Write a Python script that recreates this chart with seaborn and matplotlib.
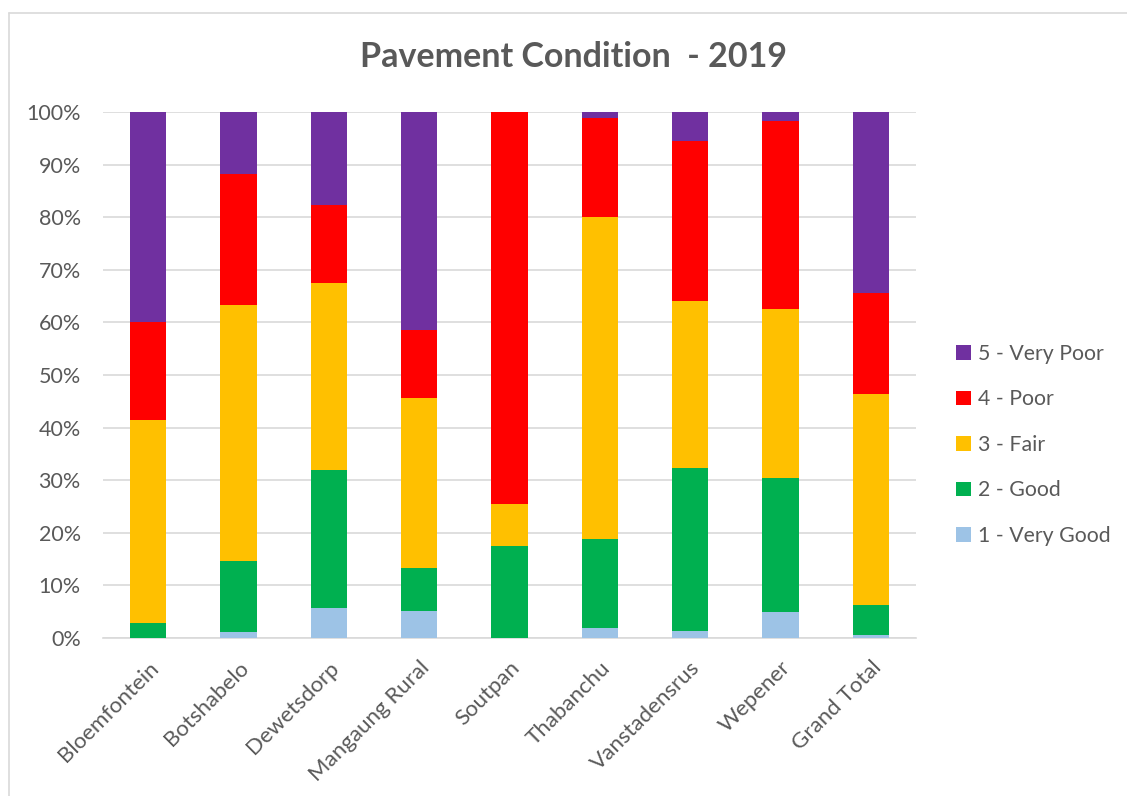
import matplotlib
matplotlib.use("Agg")
import matplotlib.pyplot as plt
import seaborn as sns
import pandas as pd
import numpy as np
from matplotlib.patches import Patch
from matplotlib.lines import Line2D
from matplotlib.ticker import PercentFormatter

categories = ["Bloemfontein", "Botshabelo", "Dewetsdorp", "Mangaung Rural", "Soutpan",
              "Thabanchu", "Vanstadensrus", "Wepener", "Grand Total"]
very_good = [0.0, 1.1, 5.7, 5.2, 0.0, 1.9, 1.3, 4.9, 0.6]
good      = [2.9, 13.6, 26.3, 8.2, 17.5, 16.9, 31.1, 25.5, 5.6]
fair      = [38.6, 48.7, 35.4, 32.3, 8.0, 61.3, 31.6, 32.1, 40.1]
poor      = [18.5, 24.8, 15.0, 12.8, 74.5, 18.8, 30.4, 35.7, 19.3]
very_poor = [40.0, 11.8, 17.6, 41.5, 0.0, 1.1, 5.6, 1.8, 34.4]

series_names = ["1 - Very Good", "2 - Good", "3 - Fair", "4 - Poor", "5 - Very Poor"]
colors = ["#9DC3E6", "#00B050", "#FFC000", "#FF0000", "#7030A0"]

df = pd.DataFrame({"cat": categories, "1 - Very Good": very_good, "2 - Good": good,
                   "3 - Fair": fair, "4 - Poor": poor, "5 - Very Poor": very_poor})
cum = df[series_names].cumsum(axis=1)

sns.set_theme(style="white")
plt.rcParams['font.family'] = ['Lato', 'DejaVu Sans']

fig = plt.figure(figsize=(11.27, 7.96), dpi=100)
ax = fig.add_axes([103/1127, 1-638/796, (916-103)/1127, (638-112)/796])

for name, col in reversed(list(zip(series_names, colors))):
    sns.barplot(x=df["cat"], y=cum[name], color=col, width=0.4, ax=ax,
                saturation=1, linewidth=0, zorder=3)

ax.set_ylim(0, 100)
ax.set_yticks(np.arange(0, 101, 10))
ax.yaxis.set_major_formatter(PercentFormatter(decimals=0))
ax.grid(axis='y', color='#D9D9D9', linewidth=1.2, zorder=0)
ax.set_axisbelow(True)
for s in ["top", "right", "left"]:
    ax.spines[s].set_visible(False)
ax.spines["bottom"].set_color("#D9D9D9")
ax.spines["bottom"].set_linewidth(1.2)
ax.set_xlabel("")
ax.set_ylabel("")
ax.tick_params(axis='y', length=0, labelsize=15.5, colors='#595959', pad=16)
ax.tick_params(axis='x', length=0, labelsize=16, colors='#595959', pad=14)
plt.setp(ax.get_xticklabels(), rotation=45, ha='right', rotation_mode='anchor')

fig.text(573/1127, 1-57/796, "Pavement Condition  - 2019", ha='center', va='center',
         fontsize=24.5, fontweight='bold', color='#595959')

handles = [Patch(facecolor=c, edgecolor='none') for c in reversed(colors)]
leg = fig.legend(handles, list(reversed(series_names)), loc='center left',
                 bbox_to_anchor=(956/1127, 1-445/796), frameon=False, fontsize=15.3,
                 labelspacing=1.2, handlelength=0.7, handleheight=0.7, handletextpad=0.35,
                 labelcolor='#595959', borderpad=0, borderaxespad=0)

fig.add_artist(Line2D([9/1127, 1.0], [1-13/796, 1-13/796], transform=fig.transFigure,
                      color='#D9D9D9', linewidth=1.2))
fig.add_artist(Line2D([9/1127, 9/1127], [0.0, 1-13/796], transform=fig.transFigure,
                      color='#D9D9D9', linewidth=1.2))

fig.savefig("out.png", dpi=100)
